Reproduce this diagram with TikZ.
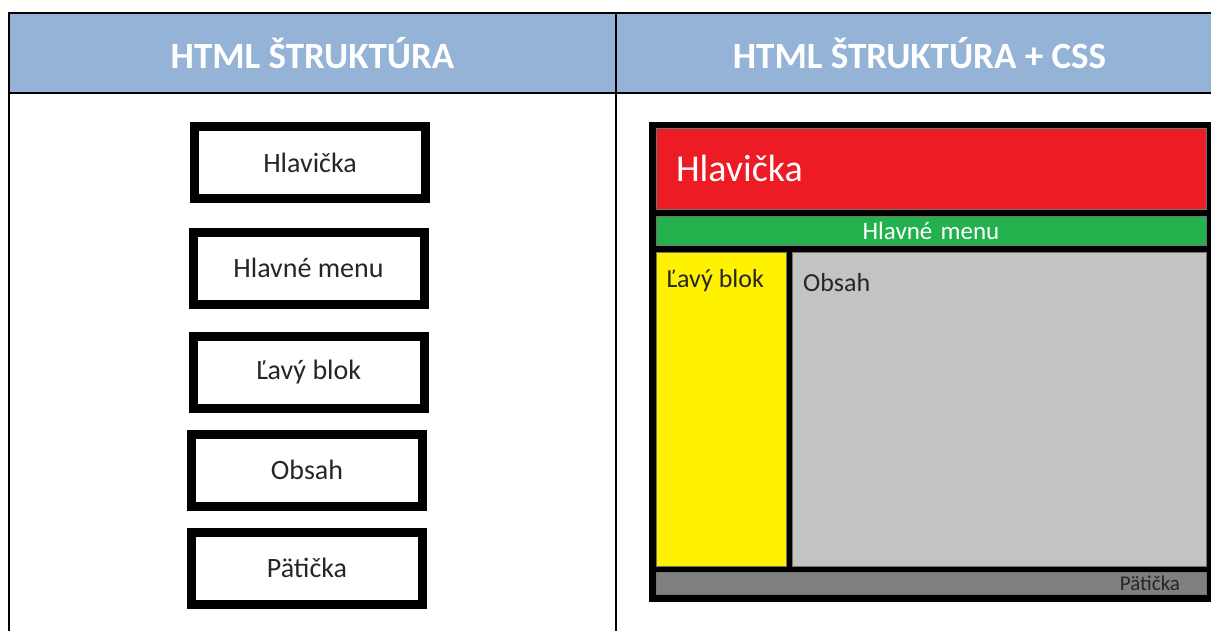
\documentclass[tikz,border=0pt]{standalone}
\usepackage{fontspec}
\setmainfont{Carlito}
\usepackage{xcolor}

\definecolor{hdrblue}{RGB}{149,179,215}
\definecolor{hlred}{RGB}{237,28,36}
\definecolor{menugreen}{RGB}{34,177,76}
\definecolor{blokyellow}{RGB}{255,242,0}
\definecolor{obsahgray}{RGB}{195,195,195}
\definecolor{patagray}{RGB}{127,127,127}

\begin{document}
\begin{tikzpicture}[x=1pt,y=-1pt]
			\tikzstyle{cell} = [rectangle,draw=black,line width=2pt,inner sep=0pt]
			\tikzstyle{head} = [cell,fill=hdrblue,text=white,font=\fontsize{37}{40}\selectfont\bfseries]
			\tikzstyle{part} = [rectangle,draw=black,line width=9pt,fill=white,minimum width=231,minimum height=72,font=\fontsize{28}{32}\selectfont,text=black!85]
			\tikzstyle{block} = [rectangle,draw=black!55,line width=0.6pt,inner sep=0pt]
			\tikzstyle{label} = [anchor=west,inner sep=0pt,text=black!85]
			\useasboundingbox (0,0) rectangle (1211,630);
			\node[cell,minimum width=607,minimum height=547] (bodyL) at (312.5,366.5) {};
			\node[cell,minimum width=607,minimum height=547] (bodyR) at (919.5,366.5) {};
			\node[head,minimum width=607,minimum height=80] (headL) at (312.5,53) {HTML ŠTRUKTÚRA};
			\node[head,minimum width=607,minimum height=80] (headR) at (919.5,53) {HTML ŠTRUKTÚRA + CSS};
			\node[part] (p1) at (310,162.5) {Hlavička};
			\node[part] (p2) at (308.5,268) {Hlavné menu};
			\node[part] (p3) at (308.5,372) {Ľavý blok};
			\node[part] (p4) at (307,470) {Obsah};
			\node[part] (p5) at (307,568) {Pätička};
			\node[rectangle,fill=black,inner sep=0pt,minimum width=562,minimum height=480] (frame) at (930,362) {};
			\node[block,fill=hlred,minimum height=81,text width=510,inner xsep=20pt,align=left,text=white,font=\fontsize{38}{40}\selectfont] (hlavicka) at (931,168.5) {Hlavička};
			\node[block,fill=menugreen,minimum height=29,text width=550,align=center,text=white,font=\fontsize{25}{28}\selectfont] (menu) at (931,230.5) {Hlavné menu};
			\node[block,fill=blokyellow,minimum width=130,minimum height=314] (lavy) at (721,409) {};
			\node[block,fill=obsahgray,minimum width=414,minimum height=314] (obsah) at (999,409) {};
			\node[block,fill=patagray,minimum height=22,text width=498,inner xsep=26pt,align=right,text=black!85,font=\fontsize{21}{22}\selectfont] (paticka) at (931,583) {Pätička};
			\node[label,font=\fontsize{26}{30}\selectfont] (lavytext) at (666,281) {Ľavý blok};
			\node[label,font=\fontsize{26}{30}\selectfont] (obsahtext) at (803,283) {Obsah};
\end{tikzpicture}
\end{document}
